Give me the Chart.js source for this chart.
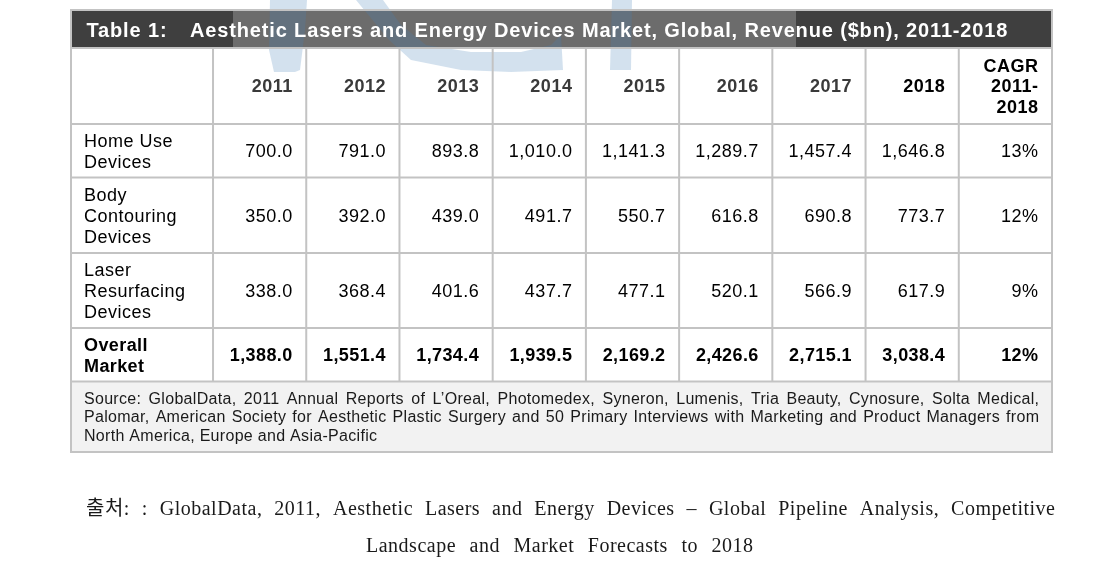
<!DOCTYPE html>
<html><head><meta charset="utf-8">
<script src="https://cdn.jsdelivr.net/npm/chart.js@4.4.0/dist/chart.umd.min.js"></script>
<style>html,body{margin:0;padding:0;background:#fff;} #wrap{width:1101px;height:564px;position:relative;}</style>
</head><body><div id="wrap"><canvas id="c"></canvas></div>
<script>
// ---- data ----
const tableTitleLabel = 'Table 1:';
const tableTitle = 'Aesthetic Lasers and Energy Devices Market, Global, Revenue ($bn), 2011-2018';
const years = ['2011','2012','2013','2014','2015','2016','2017','2018'];
const cagrHeader = ['CAGR','2011-','2018'];
const rowLabels = [['Home Use','Devices'],['Body','Contouring','Devices'],['Laser','Resurfacing','Devices'],['Overall','Market']];
const homeUse = [700.0, 791.0, 893.8, 1010.0, 1141.3, 1289.7, 1457.4, 1646.8];
const bodyContouring = [350.0, 392.0, 439.0, 491.7, 550.7, 616.8, 690.8, 773.7];
const laserResurfacing = [338.0, 368.4, 401.6, 437.7, 477.1, 520.1, 566.9, 617.9];
const overallMarket = [1388.0, 1551.4, 1734.4, 1939.5, 2169.2, 2426.6, 2715.1, 3038.4];
const cagr = ['13%', '12%', '9%', '12%'];
const sourceLines = [
  'Source: GlobalData, 2011 Annual Reports of L\u2019Oreal, Photomedex, Syneron, Lumenis, Tria Beauty, Cynosure, Solta Medical,',
  'Palomar, American Society for Aesthetic Plastic Surgery and 50 Primary Interviews with Marketing and Product Managers from',
  'North America, Europe and Asia-Pacific'
];
const captionLines = [
  '\ucd9c\ucc98: : GlobalData, 2011, Aesthetic Lasers and Energy Devices \u2013 Global Pipeline Analysis, Competitive',
  'Landscape and Market Forecasts to 2018'
];

// ---- layout (sizes, not data) ----
const colWeights = [142, 93.2, 93.2, 93.2, 93.2, 93.2, 93.2, 93.2, 93.2, 93.2];
const rowHeights = [38, 76, 53.5, 75.5, 75, 53.5, 70.5];
const totalW = colWeights.reduce((a, b) => a + b, 0);
const totalH = rowHeights.reduce((a, b) => a + b, 0);
const edges = arr => arr.reduce((acc, w) => { acc.push(acc[acc.length - 1] + w); return acc; }, [0]);
const colEdges = edges(colWeights);
const rowEdges = edges(rowHeights);

const SANS = '"Liberation Sans", Arial, sans-serif';
const SERIF = '"Liberation Serif", "Noto Sans CJK KR", serif';
const fmt = v => v.toLocaleString('en-US', {minimumFractionDigits: 1, maximumFractionDigits: 1});

function setFont(ctx, font, spacing) {
  ctx.font = font;
  ctx.letterSpacing = spacing + 'px';
  ctx._sp = spacing;
}
function capsText(ctx, text, x, cy, size) {
  ctx.textBaseline = 'alphabetic';
  const dx = ctx.textAlign === 'right' ? (ctx._sp || 0) : 0;
  ctx.fillText(text, x + dx, cy + size * 0.355);
}
function justified(ctx, text, left, right, cy, size) {
  const words = text.split(' ');
  const widths = words.map(w => ctx.measureText(w).width);
  const sum = widths.reduce((a, b) => a + b, 0) - (ctx._sp || 0);
  const gap = (right - left - sum) / (words.length - 1);
  let x = left;
  ctx.textAlign = 'left';
  words.forEach((w, i) => { capsText(ctx, w, x, cy, size); x += widths[i] + gap; });
}

const tablePlugin = {
  id: 'tablePlugin',
  afterDraw(chart) {
    const ctx = chart.ctx;
    const xs = chart.scales.x, ys = chart.scales.y;
    const X = i => xs.getPixelForValue(colEdges[i]);
    const Y = j => ys.getPixelForValue(rowEdges[j]);
    const L = X(0), R = X(colWeights.length);
    ctx.save();
    // source row background
    ctx.fillStyle = '#f2f2f2';
    ctx.fillRect(L, Y(6), R - L, Y(7) - Y(6));
    // title bar
    ctx.fillStyle = '#3f3f3f';
    ctx.fillRect(L, Y(0), R - L, Y(1) - Y(0));
    // watermark (approximate)
    ctx.fillStyle = 'rgba(255,255,255,0.24)';
    ctx.fillRect(L + 162, Y(0), 563, Y(1) - Y(0));
    ctx.fillStyle = 'rgba(70,130,185,0.24)';
    const T = Y(0);
    const poly = pts => { ctx.beginPath(); pts.forEach((p, k) => k ? ctx.lineTo(L + p[0], T + p[1]) : ctx.moveTo(L + p[0], T + p[1])); ctx.closePath(); ctx.fill(); };
    poly([[199,-10],[236,-10],[234,20],[229,60],[224,62],[203,62],[198,40]]);
    poly([[285,-10],[312,-10],[330,15],[355,35],[400,42],[450,42],[480,35],[490,25],[492,60],[440,62],[390,60],[340,50],[318,30]]);
    poly([[541,-10],[561,-10],[560,60],[539,60]]);
    // grid
    ctx.strokeStyle = '#c3c3c3';
    ctx.lineWidth = 2;
    ctx.beginPath();
    for (let j = 1; j < rowHeights.length; j++) { ctx.moveTo(L, Y(j)); ctx.lineTo(R, Y(j)); }
    for (let i = 1; i < colWeights.length; i++) { ctx.moveTo(X(i), Y(1)); ctx.lineTo(X(i), Y(6)); }
    ctx.rect(L, Y(0), R - L, Y(7) - Y(0));
    ctx.stroke();

    // title
    ctx.fillStyle = '#ffffff';
    setFont(ctx, 'bold 20px ' + SANS, 0.85);
    ctx.textAlign = 'left';
    const tcy = (Y(0) + Y(1)) / 2 + 1;
    capsText(ctx, tableTitleLabel, L + 15.5, tcy, 20);
    capsText(ctx, tableTitle, L + 119, tcy, 20);

    // column headers
    const hcy = (Y(1) + Y(2)) / 2;
    setFont(ctx, 'bold 18px ' + SANS, 0.5);
    ctx.textAlign = 'right';
    years.forEach((y, i) => {
      ctx.fillStyle = i === years.length - 1 ? '#000' : '#3a3a3a';
      capsText(ctx, y, X(i + 2) - 14, hcy, 18);
    });
    ctx.fillStyle = '#000';
    cagrHeader.forEach((t, k) => capsText(ctx, t, X(10) - 14, hcy + (k - 1) * 20.5, 18));

    // body rows
    const series = [homeUse, bodyContouring, laserResurfacing, overallMarket];
    series.forEach((vals, r) => {
      const cy = (Y(r + 2) + Y(r + 3)) / 2;
      const bold = r === series.length - 1;
      ctx.fillStyle = '#000';
      setFont(ctx, (bold ? 'bold ' : '') + '18px ' + SANS, bold ? 0.4 : 0.5);
      ctx.textAlign = 'left';
      const lines = rowLabels[r];
      lines.forEach((t, k) => capsText(ctx, t, L + 13, cy + (k - (lines.length - 1) / 2) * 21, 18));
      ctx.textAlign = 'right';
      vals.forEach((v, i) => capsText(ctx, fmt(v), X(i + 2) - 14, cy, 18));
      capsText(ctx, cagr[r], X(10) - 14, cy, 18);
    });

    // source
    ctx.fillStyle = '#1a1a1a';
    setFont(ctx, '16px ' + SANS, 0.3);
    const scy = (Y(6) + Y(7)) / 2;
    sourceLines.forEach((t, k) => {
      const cy = scy + (k - 1) * 18.7;
      if (k < sourceLines.length - 1) justified(ctx, t, L + 13, R - 13, cy, 16);
      else { ctx.textAlign = 'left'; capsText(ctx, t, L + 13, cy, 16); }
    });

    // caption below the table
    ctx.fillStyle = '#1a1a1a';
    setFont(ctx, '20px ' + SERIF, 0.5);
    const cb = Y(7);
    justified(ctx, captionLines[0], L + 15, R + 3, cb + 56, 19);
    justified(ctx, captionLines[1], L + 295, L + 682, cb + 93, 19);
    ctx.restore();
  }
};

new Chart(document.getElementById('c'), {
  type: 'scatter',
  data: { datasets: [] },
  options: {
    responsive: true,
    maintainAspectRatio: false,
    animation: false,
    events: [],
    layout: { padding: { left: 71, right: 49, top: 10, bottom: 112 } },
    plugins: { legend: { display: false }, tooltip: { enabled: false }, title: { display: false } },
    scales: {
      x: { type: 'linear', min: 0, max: totalW, display: false },
      y: { type: 'linear', min: 0, max: totalH, reverse: true, display: false }
    }
  },
  plugins: [tablePlugin]
});
</script>
</body></html>
